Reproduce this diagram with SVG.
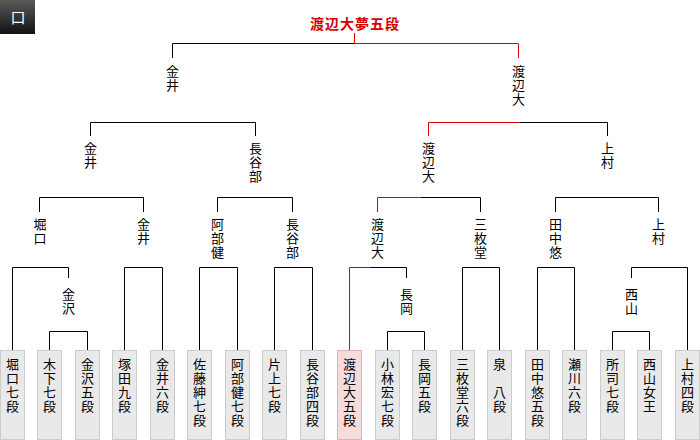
<svg xmlns="http://www.w3.org/2000/svg" width="700" height="440" viewBox="0 0 700 440">
<defs>
<linearGradient id="badgeGrad" x1="0" y1="0" x2="0" y2="1">
<stop offset="0" stop-color="#5a5a5a"/>
<stop offset="1" stop-color="#121212"/>
</linearGradient>
</defs>
<style>
text{font-family:"Noto Sans CJK JP","Noto Sans CJK SC",sans-serif;font-size:13px;fill:#000}
.v{writing-mode:vertical-rl;letter-spacing:1px;text-anchor:start}
.title{fill:#d40000;font-weight:bold;font-size:14px;letter-spacing:1px;text-anchor:middle}
.badge text{fill:#fff;font-size:15px;text-anchor:middle}
.box rect{fill:#e9e9e9;stroke:#cccccc;stroke-width:1}
.box.win rect{fill:#f5dcdc;stroke:#e0b4b4}
.c path{fill:none;stroke-width:1}
.k{stroke:#000}
.r{stroke:#dd0000}
</style>
<rect width="700" height="440" fill="#fff"/>
<g id="badge" class="badge">
<rect x="0" y="0" width="35" height="34" fill="url(#badgeGrad)"/>
<text x="18" y="23">口</text>
</g>
<g id="connectors" class="c">
<path class="r" d="M354.5 33V43.5"/>
<path class="k" d="M172.5 58V43.5H354.5"/>
<path class="r" d="M354.5 43.5H518.5V58"/>
<path class="k" d="M90.5 136V122.5H255.5V136"/>
<path class="r" d="M428.5 136V122.5H519.5"/>
<path class="k" d="M519.5 122.5H607.5V136"/>
<path class="k" d="M39.5 212V197.5H143.5V212"/>
<path class="k" d="M217.5 212V197.5H292.5V212"/>
<path class="r" d="M377.5 212V197.5H420.5"/>
<path class="k" d="M420.5 197.5H480.5V212"/>
<path class="k" d="M555.5 212V197.5H658.5V212"/>
<path class="k" d="M12.5 350V267.5H68.5V278"/>
<path class="k" d="M49.5 350V331.5H87.5V350"/>
<path class="k" d="M124.5 350V267.5H162.5V350"/>
<path class="k" d="M199.5 350V267.5H237.5V350"/>
<path class="k" d="M274.5 350V267.5H312.5V350"/>
<path class="r" d="M349.5 350V267.5H369.5"/>
<path class="k" d="M369.5 267.5H406.5V278"/>
<path class="k" d="M387.5 350V331.5H424.5V350"/>
<path class="k" d="M462.5 350V267.5H499.5V350"/>
<path class="k" d="M537.5 350V267.5H574.5V350"/>
<path class="k" d="M631.5 278V267.5H687.5V350"/>
<path class="k" d="M612.5 350V331.5H649.5V350"/>
</g>
<g id="champion"><text class="title" x="355" y="29">渡辺大夢五段</text></g>
<g id="f-kanai"><text class="v" x="172.5" y="64.6">金井</text></g>
<g id="f-watanabe"><text class="v" x="518.5" y="64.6">渡辺大</text></g>
<g id="s-kanai"><text class="v" x="90.5" y="141.6">金井</text></g>
<g id="s-hasebe"><text class="v" x="255.5" y="141.6">長谷部</text></g>
<g id="s-watanabe"><text class="v" x="428.5" y="141.6">渡辺大</text></g>
<g id="s-uemura"><text class="v" x="607.5" y="141.6">上村</text></g>
<g id="q-horiguchi"><text class="v" x="40" y="217.6">堀口</text></g>
<g id="q-kanai"><text class="v" x="143.5" y="217.6">金井</text></g>
<g id="q-abeken"><text class="v" x="217.5" y="217.6">阿部健</text></g>
<g id="q-hasebe"><text class="v" x="292.5" y="217.6">長谷部</text></g>
<g id="q-watanabe"><text class="v" x="377.5" y="217.6">渡辺大</text></g>
<g id="q-sanmaido"><text class="v" x="480.5" y="217.6">三枚堂</text></g>
<g id="q-tanakayu"><text class="v" x="555.5" y="217.6">田中悠</text></g>
<g id="q-uemura"><text class="v" x="658.5" y="217.6">上村</text></g>
<g id="r-kanazawa"><text class="v" x="68.5" y="287.6">金沢</text></g>
<g id="r-nagaoka"><text class="v" x="406.5" y="287.6">長岡</text></g>
<g id="r-nishiyama"><text class="v" x="631.5" y="287.6">西山</text></g>
<g id="p0" class="box"><rect x="0.5" y="350.5" width="24" height="89"/><text class="v" x="12.5" y="357.6">堀口七段</text></g>
<g id="p1" class="box"><rect x="37.5" y="350.5" width="24" height="89"/><text class="v" x="49.5" y="357.6">木下七段</text></g>
<g id="p2" class="box"><rect x="75.5" y="350.5" width="24" height="89"/><text class="v" x="87.5" y="357.6">金沢五段</text></g>
<g id="p3" class="box"><rect x="112.5" y="350.5" width="24" height="89"/><text class="v" x="124.5" y="357.6">塚田九段</text></g>
<g id="p4" class="box"><rect x="150.5" y="350.5" width="24" height="89"/><text class="v" x="162.5" y="357.6">金井六段</text></g>
<g id="p5" class="box"><rect x="187.5" y="350.5" width="24" height="89"/><text class="v" x="199.5" y="357.6">佐藤紳七段</text></g>
<g id="p6" class="box"><rect x="225.5" y="350.5" width="24" height="89"/><text class="v" x="237.5" y="357.6">阿部健七段</text></g>
<g id="p7" class="box"><rect x="262.5" y="350.5" width="24" height="89"/><text class="v" x="274.5" y="357.6">片上七段</text></g>
<g id="p8" class="box"><rect x="300.5" y="350.5" width="24" height="89"/><text class="v" x="312.5" y="357.6">長谷部四段</text></g>
<g id="p9" class="box win"><rect x="337.5" y="350.5" width="24" height="89"/><text class="v" x="349.5" y="357.6">渡辺大五段</text></g>
<g id="p10" class="box"><rect x="375.5" y="350.5" width="24" height="89"/><text class="v" x="387.5" y="357.6">小林宏七段</text></g>
<g id="p11" class="box"><rect x="412.5" y="350.5" width="24" height="89"/><text class="v" x="424.5" y="357.6">長岡五段</text></g>
<g id="p12" class="box"><rect x="450.5" y="350.5" width="24" height="89"/><text class="v" x="462.5" y="357.6">三枚堂六段</text></g>
<g id="p13" class="box"><rect x="487.5" y="350.5" width="24" height="89"/><text class="v" x="499.5" y="357.6">泉　八段</text></g>
<g id="p14" class="box"><rect x="525.5" y="350.5" width="24" height="89"/><text class="v" x="537.5" y="357.6">田中悠五段</text></g>
<g id="p15" class="box"><rect x="562.5" y="350.5" width="24" height="89"/><text class="v" x="574.5" y="357.6">瀬川六段</text></g>
<g id="p16" class="box"><rect x="600.5" y="350.5" width="24" height="89"/><text class="v" x="612.5" y="357.6">所司七段</text></g>
<g id="p17" class="box"><rect x="637.5" y="350.5" width="24" height="89"/><text class="v" x="649.5" y="357.6">西山女王</text></g>
<g id="p18" class="box"><rect x="675.5" y="350.5" width="24" height="89"/><text class="v" x="687.5" y="357.6">上村四段</text></g>
</svg>
